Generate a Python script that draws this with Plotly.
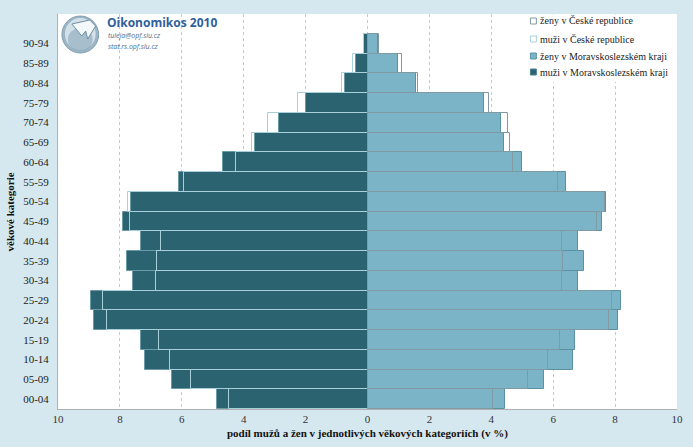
import plotly.graph_objects as go

categories = ["00-04", "05-09", "10-14", "15-19", "20-24", "25-29", "30-34", "35-39",
              "40-44", "45-49", "50-54", "55-59", "60-64", "65-69", "70-74", "75-79",
              "80-84", "85-89", "90-94"]

# values in % (bottom category first)
men_msk = [4.85, 6.31, 7.20, 7.32, 8.83, 8.94, 7.59, 7.76, 7.33, 7.91, 7.63, 6.10,
           4.67, 3.65, 2.87, 2.00, 0.72, 0.37, 0.12]
men_cr = [4.48, 5.70, 6.37, 6.75, 8.42, 8.56, 6.83, 6.80, 6.66, 7.66, 7.74, 5.92,
          4.24, 3.74, 3.20, 2.24, 0.83, 0.48, 0.10]
women_msk = [4.43, 5.71, 6.63, 6.71, 8.09, 8.20, 6.79, 7.01, 6.79, 7.59, 7.69, 6.42,
             4.98, 4.41, 4.31, 3.78, 1.56, 0.98, 0.34]
women_cr = [4.07, 5.17, 5.83, 6.22, 7.79, 7.91, 6.28, 6.31, 6.28, 7.40, 7.68, 6.15,
            4.71, 4.59, 4.53, 3.91, 1.64, 1.13, 0.38]

xticks = [-10, -8, -6, -4, -2, 0, 2, 4, 6, 8, 10]
xticklabels = [str(abs(v)) for v in xticks]

pos = list(range(len(categories)))

SERIF = "Liberation Serif"
C_MEN = "#2c6370"
C_WOMEN = "#7ab4c6"
C_MEN_CR = "#a9d0da"
C_WOMEN_CR = "#7f9aa3"

series = [
    ("ženy v České republice", "white", C_WOMEN_CR),
    ("muži v České republice", "white", C_MEN_CR),
    ("ženy v Moravskoslezském kraji", C_WOMEN, "#5a92a3"),
    ("muži v Moravskoslezském kraji", C_MEN, "#4e8190"),
]

fig = go.Figure()
fig.add_trace(go.Bar(y=pos, x=[-v for v in men_msk], orientation="h", width=1,
                     name=series[3][0],
                     marker=dict(color=C_MEN, line=dict(color="#6b9ba7", width=1))))
fig.add_trace(go.Bar(y=pos, x=women_msk, orientation="h", width=1,
                     name=series[2][0],
                     marker=dict(color=C_WOMEN, line=dict(color="#5a92a3", width=1))))
fig.add_trace(go.Bar(y=pos, x=[-v for v in men_cr], orientation="h", width=1,
                     name=series[1][0],
                     marker=dict(color="rgba(255,255,255,0)", line=dict(color=C_MEN_CR, width=1))))
fig.add_trace(go.Bar(y=pos, x=women_cr, orientation="h", width=1,
                     name=series[0][0],
                     marker=dict(color="rgba(255,255,255,0)", line=dict(color=C_WOMEN_CR, width=1))))

# pixel helpers for decoration placement
X0, X1, Y0, Y1 = 58, 683, 14, 409
def px(x):
    return (x - X0) / (X1 - X0)
def py(y):
    return (Y1 - y) / (Y1 - Y0)

shapes = [
    # legend background
    dict(type="rect", xref="paper", yref="paper", x0=px(529), x1=px(678), y0=py(82), y1=py(14.5),
         fillcolor="white", line=dict(width=0), layer="above"),
    # logo globe
    dict(type="circle", xref="paper", yref="paper", x0=px(62), x1=px(99), y0=py(53), y1=py(16),
         fillcolor="#9db6c6", line=dict(color="#7f9db0", width=1), layer="above"),
    dict(type="circle", xref="paper", yref="paper", x0=px(65), x1=px(96), y0=py(50), y1=py(18),
         fillcolor="#d2e0e8", line=dict(width=0), layer="above"),
    dict(type="circle", xref="paper", yref="paper", x0=px(68), x1=px(93), y0=py(51), y1=py(28),
         fillcolor="#8aa7ba", line=dict(width=0), layer="above", opacity=0.6),
    dict(type="path", xref="paper", yref="paper", layer="above",
         path=f"M {px(72)},{py(24)} L {px(82)},{py(36)} L {px(86)},{py(31)} L {px(88)},{py(39)} "
              f"L {px(96)},{py(26)} L {px(90)},{py(20)} Z",
         fillcolor="#f4f8fa", line=dict(color="#6f8fa3", width=1)),
]

annotations = [
    dict(text="<b>Oikonomikos 2010</b>", xref="paper", yref="paper", x=px(105), y=py(22),
         xanchor="left", yanchor="middle", showarrow=False,
         font=dict(family="Open Sans", size=12, color="#2f5f9c")),
    dict(text="<i>tuleja@opf.slu.cz</i>", xref="paper", yref="paper",
         x=px(106), y=py(35.5), xanchor="left", yanchor="middle", showarrow=False,
         font=dict(family="Open Sans", size=7, color="#4a6f95")),
    dict(text="<i>stat.rs.opf.slu.cz</i>", xref="paper", yref="paper",
         x=px(106), y=py(46.5), xanchor="left", yanchor="middle", showarrow=False,
         font=dict(family="Open Sans", size=7, color="#4a6f95")),
    dict(text="<b>podíl mužů a žen v jednotlivých věkových kategoriích (v %)</b>",
         xref="paper", yref="paper", x=0.5, y=py(434), xanchor="center", yanchor="middle",
         showarrow=False, font=dict(family=SERIF, size=11, color="#111")),
    dict(text="<b>věkové kategorie</b>", xref="paper", yref="paper", x=px(10), y=py(212),
         xanchor="center", yanchor="middle", textangle=-90, showarrow=False,
         font=dict(family=SERIF, size=11, color="#111")),
]

# custom legend
leg_y = [21, 39, 56, 72]
for (label, fill, border), yy in zip(series, leg_y):
    shapes.append(dict(type="rect", xref="paper", yref="paper",
                       x0=px(535), x1=px(541), y0=py(yy + 3), y1=py(yy - 3),
                       fillcolor=fill, line=dict(color=border, width=1), layer="above"))
    annotations.append(dict(text=label, xref="paper", yref="paper", x=px(543), y=py(yy),
                            xanchor="left", yanchor="middle", showarrow=False,
                            font=dict(family=SERIF, size=10, color="#222")))

fig.update_layout(
    width=693, height=447,
    margin=dict(l=X0, r=693 - X1, t=Y0, b=447 - Y1),
    paper_bgcolor="#d6e8ef", plot_bgcolor="white",
    barmode="overlay", bargap=0,
    showlegend=False,
    shapes=shapes, annotations=annotations,
    xaxis=dict(range=[-10, 10], tickvals=xticks, ticktext=xticklabels,
               showgrid=True, gridcolor="#c8c8c8", griddash="dot", gridwidth=1,
               zeroline=False, showline=True, linecolor="#b0b0b0", linewidth=1,
               tickfont=dict(family=SERIF, size=11, color="#333"), ticks=""),
    yaxis=dict(range=[-0.5, 19.5], tickvals=pos, ticktext=categories,
               showgrid=False, zeroline=False, showline=True, linecolor="#b0b0b0",
               linewidth=1, ticks="", ticklabelstandoff=6,
               tickfont=dict(family=SERIF, size=11, color="#222")),
)

fig.write_html("out.html", config={"displayModeBar": False},
               post_script="document.body.style.margin='0';document.body.style.overflow='hidden';")
